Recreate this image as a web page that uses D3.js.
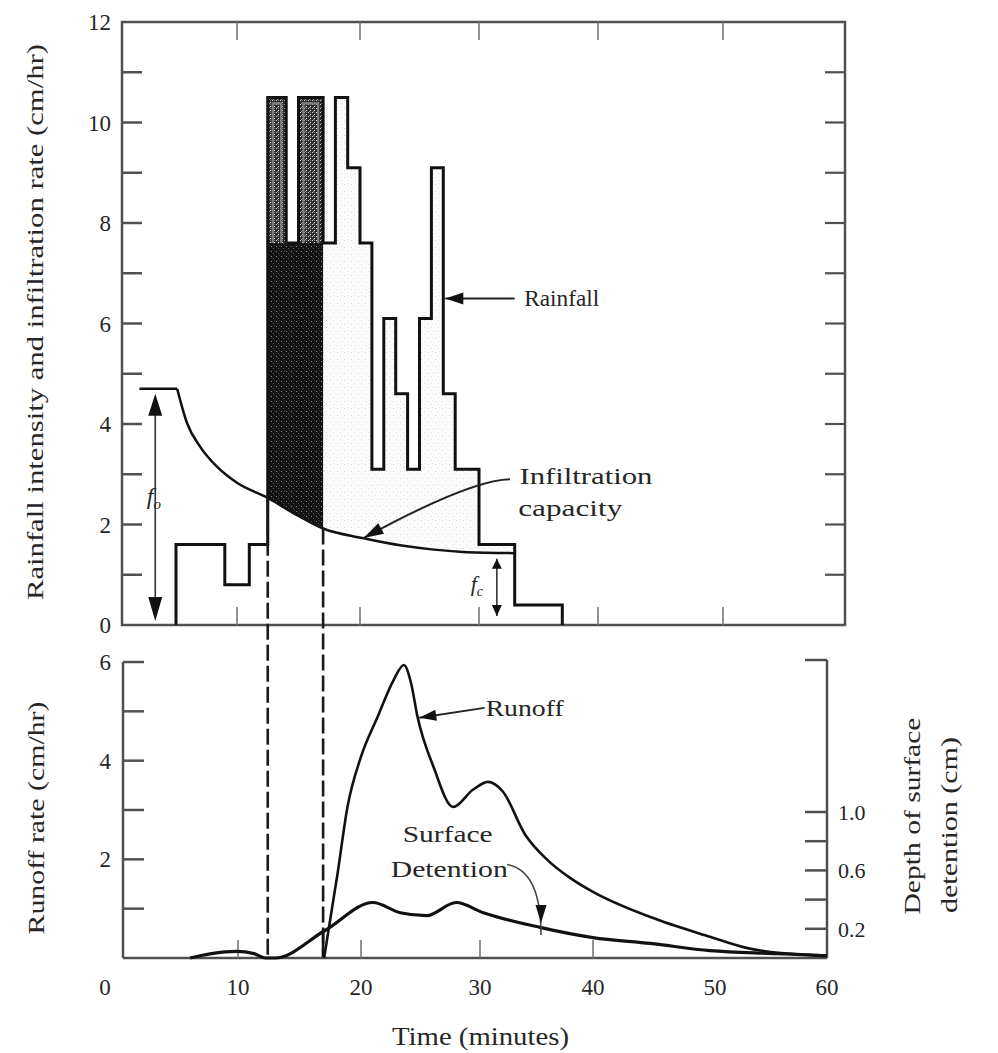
<!DOCTYPE html>
<html><head><meta charset="utf-8">
<script src="https://cdn.jsdelivr.net/npm/d3@7"></script>
<style>
body{margin:0;background:#fff}
svg{display:block}
text{font-family:"Liberation Serif","Times New Roman",serif;fill:#262626}
</style>
</head><body>
<svg id="c" width="998" height="1053"></svg>
<script>
// ---------------- DATA ----------------
const timeTicks = [0, 10, 20, 30, 40, 50, 60];
const timeTickMarks = [10, 20, 30, 40, 50];
const timeTickMarksBottom = [10, 20, 30, 40];
const rainTickLabels = [0, 2, 4, 6, 8, 10, 12];
const rainMinorTicks = [1, 2, 3, 4, 5, 6, 7, 8, 9, 10, 11];
const runoffTickLabels = [2, 4, 6];
const runoffMinorTicks = [1, 2, 3, 4, 5, 6];
const depthTicks = [0.2, 0.4, 0.6, 0.8, 1.0];
const depthTickLabels = [0.2, 0.6, 1.0];

// rainfall hyetograph (step start time, intensity cm/hr)
const rainStart = [5, 9, 11, 12.5, 14, 15, 17, 18, 19, 20, 21, 22, 23, 24, 25, 26, 27, 28, 30, 33];
const rainValue = [1.6, 0.8, 1.6, 10.5, 7.6, 10.5, 7.6, 10.5, 9.1, 7.6, 3.1, 6.1, 4.6, 3.1, 6.1, 9.1, 4.6, 3.1, 1.6, 0.4];
const rainEnd = 37;

// infiltration capacity
const infilFlatTime = [2, 5.1];
const infilFlatRate = [4.7, 4.7];
const infilTime = [5.1, 5.9, 7, 8.4, 10, 12.5, 15, 17, 20.2, 23.5, 26.2, 29, 33];
const infilRate = [4.7, 4.02, 3.54, 3.14, 2.83, 2.53, 2.17, 1.92, 1.73, 1.58, 1.5, 1.45, 1.43];

// runoff rate (cm/hr)
const runoffTime = [17, 18.1, 18.9, 20.0, 21.4, 22.75, 23.6, 24.2, 24.75, 26.1, 27.75, 29.4, 30.7, 32.0, 34.0, 36.0, 38.0, 40.0, 44.7, 49.6, 52.9, 55.9, 60];
const runoffRate = [0, 1.72, 3.06, 4.08, 4.89, 5.64, 5.94, 5.58, 4.89, 3.87, 3.06, 3.41, 3.57, 3.38, 2.5, 1.98, 1.62, 1.34, 0.83, 0.43, 0.20, 0.10, 0.05];

// depth of surface detention (cm)
const detTime = [6.4, 8, 9.9, 11.3, 12.2, 13.0, 17.1, 21.0, 23.3, 25.5, 28.0, 30.3, 35.3, 40, 44.7, 49.6, 55.6, 60];
const detDepth = [0, 0.03, 0.045, 0.03, 0, 0, 0.19, 0.38, 0.31, 0.29, 0.38, 0.31, 0.21, 0.14, 0.10, 0.05, 0.03, 0.015];

const shadeStart = 12.5, shadeEnd = 17, lightEnd = 33;

// ---------------- SCALES ----------------
const svg = d3.select('#c');
const xTop = d3.scaleLinear().domain(timeTicks).range([115, 237, 360, 479, 598, 723, 845]);
const yTop = d3.scaleLinear().domain([0, 12]).range([625, 22]);
const xBot = d3.scaleLinear().domain(timeTicks).range([105, 238, 361, 480, 593, 715, 827]);
const yRun = d3.scaleLinear().domain([0, 6]).range([958, 662]);
const yDep = d3.scaleLinear().domain([0, 1]).range([958, 812]);
const topLeftX = 122, botLeftX = 123;

function interp(ts, vs, t) {
  for (let i = 0; i < ts.length - 1; i++) {
    if (t >= ts[i] && t <= ts[i + 1]) return vs[i] + (vs[i + 1] - vs[i]) * (t - ts[i]) / (ts[i + 1] - ts[i]);
  }
  return vs[vs.length - 1];
}

// ---------------- DEFS ----------------
const defs = svg.append('defs');
function pattern(id, size, bg, dots) {
  const p = defs.append('pattern').attr('id', id).attr('patternUnits', 'userSpaceOnUse')
    .attr('width', size).attr('height', size);
  p.append('rect').attr('width', size).attr('height', size).attr('fill', bg);
  dots.forEach(d => p.append('rect').attr('x', d[0]).attr('y', d[1]).attr('width', 1).attr('height', 1).attr('fill', d[2]));
}
pattern('dark', 5, '#121212', [[1, 1, '#8a8a8a'], [3, 3, '#5a5a5a'], [4, 0, '#3a3a3a']]);
pattern('mid', 4, '#2c2c2c', [[0, 0, '#d0d0d0'], [2, 2, '#eeeeee'], [2, 0, '#7a7a7a'], [1, 3, '#999']]);
pattern('light', 7, '#fcfcfc', [[1, 2, '#d4d4d4'], [4, 5, '#e0e0e0'], [5, 1, '#eaeaea']]);

const rainPts = [{ t: rainStart[0], v: 0 }]
  .concat(rainStart.map((t, i) => ({ t, v: rainValue[i] })))
  .concat([{ t: rainEnd, v: 0 }]);
const rainArea = d3.area().x(d => xTop(d.t)).y0(yTop(0)).y1(d => yTop(d.v)).curve(d3.curveStepAfter);
const rainLine = d3.line().x(d => xTop(d.t)).y(d => yTop(d.v)).curve(d3.curveStepAfter);

defs.append('clipPath').attr('id', 'rainClip').append('path').attr('d', rainArea(rainPts));
defs.append('clipPath').attr('id', 'clipA').append('rect')
  .attr('x', xTop(shadeStart)).attr('y', 0).attr('width', xTop(shadeEnd) - xTop(shadeStart)).attr('height', 700);
defs.append('clipPath').attr('id', 'clipB').append('rect')
  .attr('x', xTop(shadeEnd)).attr('y', 0).attr('width', xTop(lightEnd) - xTop(shadeEnd)).attr('height', 700);

const infilPts = infilTime.map((t, i) => ({ t, v: infilRate[i] }));
const aboveInfil = d3.area().x(d => xTop(d.t)).y0(yTop(12)).y1(d => yTop(d.v)).curve(d3.curveMonotoneX);
const infilLine = d3.line().x(d => xTop(d.t)).y(d => yTop(d.v)).curve(d3.curveMonotoneX);

// ---------------- TOP PANEL SHADING ----------------
const gShade = svg.append('g').attr('clip-path', 'url(#rainClip)');
gShade.append('g').attr('clip-path', 'url(#clipB)')
  .append('path').attr('d', aboveInfil(infilPts)).attr('fill', 'url(#light)');
gShade.append('g').attr('clip-path', 'url(#clipA)')
  .append('path').attr('d', aboveInfil(infilPts)).attr('fill', 'url(#dark)');

// upper parts of tall bars inside the dark zone
const shadeIdx = rainStart.map((t, i) => i).filter(i => rainStart[i] >= shadeStart && rainStart[i] < shadeEnd);
const minShade = d3.min(shadeIdx, i => rainValue[i]);
shadeIdx.filter(i => rainValue[i] > minShade).forEach(i => {
  const x0 = xTop(rainStart[i]), x1 = xTop(rainStart[i + 1]);
  svg.append('rect').attr('x', x0).attr('y', yTop(rainValue[i])).attr('width', x1 - x0)
    .attr('height', yTop(minShade) - yTop(rainValue[i])).attr('fill', 'url(#mid)');
  svg.append('path')
    .attr('d', `M${x0 + 5},${yTop(minShade)}V${yTop(rainValue[i]) + 6}H${x1 - 5}V${yTop(minShade)}`)
    .attr('fill', 'none').attr('stroke', '#7d7d7d').attr('stroke-width', 2.2);
});

// ---------------- TOP PANEL FRAME ----------------
const frameCol = '#505050';
svg.append('rect').attr('x', topLeftX).attr('y', yTop(12)).attr('width', xTop(60) - topLeftX)
  .attr('height', yTop(0) - yTop(12)).attr('fill', 'none').attr('stroke', frameCol).attr('stroke-width', 2.5);
rainMinorTicks.forEach(v => {
  svg.append('line').attr('x1', topLeftX).attr('x2', topLeftX + 20).attr('y1', yTop(v)).attr('y2', yTop(v))
    .attr('stroke', frameCol).attr('stroke-width', 2.5);
  svg.append('line').attr('x1', xTop(60)).attr('x2', xTop(60) - 20).attr('y1', yTop(v)).attr('y2', yTop(v))
    .attr('stroke', frameCol).attr('stroke-width', 2.2);
});
timeTickMarks.forEach(t => {
  svg.append('line').attr('x1', xTop(t)).attr('x2', xTop(t)).attr('y1', yTop(0)).attr('y2', yTop(0) - 18)
    .attr('stroke', '#777').attr('stroke-width', 1.6);
  svg.append('line').attr('x1', xTop(t)).attr('x2', xTop(t)).attr('y1', yTop(12)).attr('y2', yTop(12) + 18)
    .attr('stroke', '#777').attr('stroke-width', 1.6);
});
rainTickLabels.forEach(v => {
  svg.append('text').attr('x', 111).attr('y', yTop(v)).attr('dy', '0.35em').attr('text-anchor', 'end')
    .attr('font-size', 23).text(v);
});

// ---------------- TOP PANEL LINES ----------------
svg.append('path').attr('d', rainLine(rainPts)).attr('fill', 'none').attr('stroke', '#111')
  .attr('stroke-width', 3).attr('stroke-linejoin', 'miter');
svg.append('path').attr('d', infilLine(infilPts)).attr('fill', 'none').attr('stroke', '#111').attr('stroke-width', 2.5);
svg.append('path').attr('d', infilLine(infilFlatTime.map((t, i) => ({ t, v: infilFlatRate[i] }))))
  .attr('fill', 'none').attr('stroke', '#111').attr('stroke-width', 2.5);

// dashed guide lines
[shadeStart, shadeEnd].forEach(t => {
  svg.append('line').attr('x1', xTop(t)).attr('x2', xTop(t))
    .attr('y1', yTop(interp(infilTime, infilRate, t))).attr('y2', yRun(0))
    .attr('stroke', '#1a1a1a').attr('stroke-width', 2.6).attr('stroke-dasharray', '16,5');
});
svg.append('line').attr('x1', xTop(shadeEnd)).attr('x2', xTop(shadeEnd))
  .attr('y1', yDep(interp(detTime, detDepth, shadeEnd))).attr('y2', yRun(0))
  .attr('stroke', '#111').attr('stroke-width', 2.6);

// ---------------- ANNOTATIONS TOP ----------------
function head(x, y, ang, len, hw) {
  const bx = x - len * Math.cos(ang), by = y - len * Math.sin(ang);
  const px = -Math.sin(ang) * hw, py = Math.cos(ang) * hw;
  svg.append('path').attr('d', `M${x},${y}L${bx + px},${by + py}L${bx - px},${by - py}Z`).attr('fill', '#111');
}
function label(x, y, size, len, txt) {
  return svg.append('text').attr('x', x).attr('y', y).attr('font-size', size)
    .attr('textLength', len).attr('lengthAdjust', 'spacingAndGlyphs').text(txt);
}
// Rainfall
{
  const y = yTop(6.5), x0 = xTop(33), x1 = xTop(27) + 2;
  svg.append('line').attr('x1', x0).attr('x2', x1).attr('y1', y).attr('y2', y).attr('stroke', '#222').attr('stroke-width', 2);
  head(x1, y, Math.PI, 18, 6);
  label(xTop(33.8), y + 8, 24, 75, 'Rainfall');
}
// Infiltration capacity
{
  const sx = xTop(32.6), sy = yTop(2.9), cx = xTop(29.2), cy = yTop(2.88), ex = xTop(20.3), ey = yTop(1.73);
  svg.append('path').attr('d', `M${sx},${sy}Q${cx},${cy} ${ex},${ey}`).attr('fill', 'none').attr('stroke', '#222').attr('stroke-width', 2);
  head(ex, ey, Math.atan2(ey - cy, ex - cx), 20, 6);
  label(xTop(33.4), yTop(2.8), 24, 133, 'Infiltration');
  label(xTop(33.3), yTop(2.16), 24, 104, 'capacity');
}
// f0 arrow
{
  const x = xTop(3.3), yT = yTop(infilFlatRate[0]) + 5, yB = yTop(0) - 4;
  svg.append('line').attr('x1', x).attr('x2', x).attr('y1', yT + 10).attr('y2', yB - 10).attr('stroke', '#333').attr('stroke-width', 1.6);
  head(x, yT, -Math.PI / 2, 22, 7);
  head(x, yB, Math.PI / 2, 24, 7);
  const t = svg.append('text').attr('x', xTop(2.6)).attr('y', yTop(2.4)).attr('font-size', 24).attr('font-style', 'italic');
  t.append('tspan').text('f');
  t.append('tspan').attr('font-size', 15).attr('dy', 5).text('o');
}
// fc arrow
{
  const x = xTop(31.5), yT = yTop(interp(infilTime, infilRate, 31.5)) + 6, yB = yTop(0) - 9;
  svg.append('line').attr('x1', x).attr('x2', x).attr('y1', yT).attr('y2', yB).attr('stroke', '#333').attr('stroke-width', 1.6);
  head(x, yT, -Math.PI / 2, 10, 5);
  head(x, yB, Math.PI / 2, 11, 5);
  const t = svg.append('text').attr('x', xTop(29.3)).attr('y', yTop(0.67)).attr('font-size', 22).attr('font-style', 'italic');
  t.append('tspan').text('f');
  t.append('tspan').attr('font-size', 14).attr('dy', 5).text('c');
}

// ---------------- BOTTOM PANEL ----------------
const botRight = xBot(60);
svg.append('line').attr('x1', botLeftX).attr('x2', botLeftX).attr('y1', yRun(6)).attr('y2', yRun(0)).attr('stroke', frameCol).attr('stroke-width', 2.5);
svg.append('line').attr('x1', botLeftX).attr('x2', botRight).attr('y1', yRun(0)).attr('y2', yRun(0)).attr('stroke', frameCol).attr('stroke-width', 2.5);
svg.append('line').attr('x1', botRight).attr('x2', botRight).attr('y1', yRun(6) - 2).attr('y2', yRun(0)).attr('stroke', frameCol).attr('stroke-width', 2.5);
runoffMinorTicks.forEach(v => {
  svg.append('line').attr('x1', botLeftX).attr('x2', botLeftX + 21).attr('y1', yRun(v)).attr('y2', yRun(v)).attr('stroke', frameCol).attr('stroke-width', 2.5);
});
svg.append('line').attr('x1', botRight).attr('x2', botRight - 22).attr('y1', yRun(6) - 2).attr('y2', yRun(6) - 2).attr('stroke', frameCol).attr('stroke-width', 2.5);
depthTicks.forEach(v => {
  svg.append('line').attr('x1', botRight).attr('x2', botRight - 22).attr('y1', yDep(v)).attr('y2', yDep(v)).attr('stroke', frameCol).attr('stroke-width', 2.5);
});
timeTickMarksBottom.forEach(t => {
  svg.append('line').attr('x1', xBot(t)).attr('x2', xBot(t)).attr('y1', yRun(0)).attr('y2', yRun(0) - 18).attr('stroke', '#777').attr('stroke-width', 1.6);
});
runoffTickLabels.forEach(v => {
  svg.append('text').attr('x', 111).attr('y', yRun(v)).attr('dy', '0.35em').attr('text-anchor', 'end').attr('font-size', 23).text(v);
});
depthTickLabels.forEach(v => {
  svg.append('text').attr('x', botRight + 11).attr('y', yDep(v)).attr('dy', '0.35em').attr('font-size', 22).text(v.toFixed(1));
});
timeTicks.forEach(t => {
  svg.append('text').attr('x', xBot(t)).attr('y', yRun(0) + 37).attr('text-anchor', 'middle').attr('font-size', 23).text(t);
});

const runLine = d3.line().x(d => xBot(d.t)).y(d => yRun(d.v)).curve(d3.curveMonotoneX);
svg.append('path').attr('d', runLine(runoffTime.map((t, i) => ({ t, v: runoffRate[i] }))))
  .attr('fill', 'none').attr('stroke', '#111').attr('stroke-width', 2.6);
const depLine = d3.line().x(d => xBot(d.t)).y(d => yDep(d.v)).curve(d3.curveMonotoneX);
svg.append('path').attr('d', depLine(detTime.map((t, i) => ({ t, v: detDepth[i] }))))
  .attr('fill', 'none').attr('stroke', '#111').attr('stroke-width', 3.2);

// Runoff label
{
  const sx = xBot(30.4), sy = yRun(5.07), ex = xBot(24.9), ey = yRun(4.87);
  svg.append('line').attr('x1', sx).attr('y1', sy).attr('x2', ex).attr('y2', ey).attr('stroke', '#222').attr('stroke-width', 2);
  head(ex, ey, Math.atan2(ey - sy, ex - sx), 17, 5.5);
  label(xBot(30.5), yRun(4.9), 24, 78, 'Runoff');
}
// Surface detention label
{
  label(xBot(23.5), yRun(2.35), 24, 90, 'Surface');
  label(xBot(22.5), yRun(1.64), 24, 117, 'Detention');
  const sx = xBot(32.4), sy = yDep(0.64), cx = xBot(35.4), cy = yDep(0.6), ex = xBot(35.4), ey = yDep(0.24);
  svg.append('path').attr('d', `M${sx},${sy}Q${cx},${cy} ${ex},${ey + 12}`).attr('fill', 'none').attr('stroke', '#444').attr('stroke-width', 1.6);
  head(ex, ey, Math.PI / 2, 18, 5.5);
}

// ---------------- AXIS TITLES ----------------
function vtitle(x, y, len, txt) {
  svg.append('text').attr('transform', `translate(${x},${y}) rotate(-90)`).attr('text-anchor', 'middle')
    .attr('font-size', 24).attr('textLength', len).attr('lengthAdjust', 'spacingAndGlyphs').text(txt);
}
vtitle(43, 322, 556, 'Rainfall intensity and infiltration rate (cm/hr)');
vtitle(44, 818, 233, 'Runoff rate (cm/hr)');
vtitle(920, 816, 197, 'Depth of surface');
vtitle(957, 825, 176, 'detention (cm)');
label(392, 1045, 26, 177, 'Time (minutes)');
</script>
</body></html>
